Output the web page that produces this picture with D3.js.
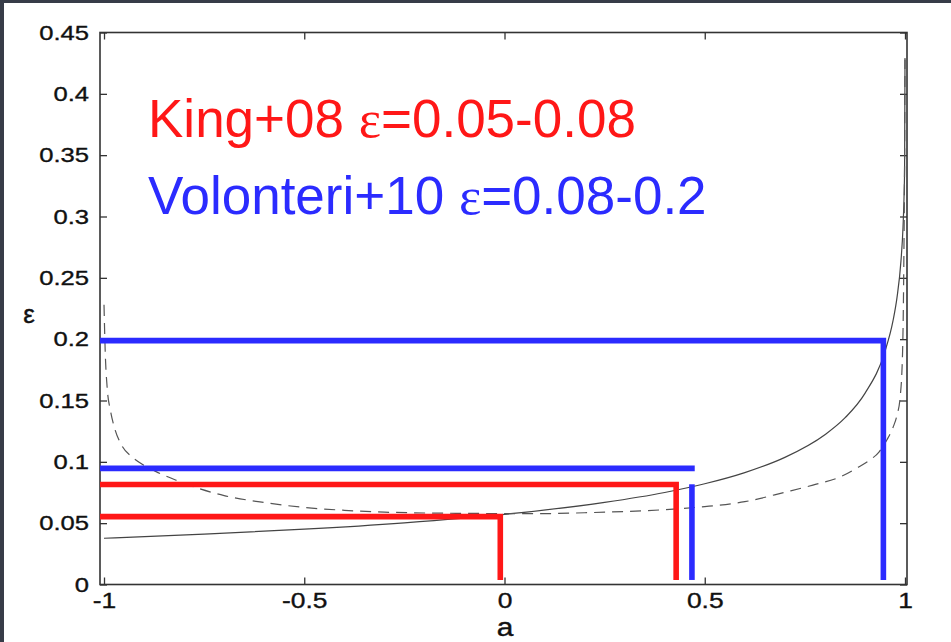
<!DOCTYPE html>
<html><head><meta charset="utf-8">
<script src="https://cdn.jsdelivr.net/npm/d3@7"></script>
<style>
html,body{margin:0;padding:0;background:#373c48;overflow:hidden;}
svg{display:block;}
</style></head>
<body>
<svg id="chart" width="951" height="642"></svg>
<script>
// ---- data ----
const xTicks = [-1, -0.5, 0, 0.5, 1];
const xTickLabels = ["-1", "-0.5", "0", "0.5", "1"];
const yTicks = [0, 0.05, 0.1, 0.15, 0.2, 0.25, 0.3, 0.35, 0.4, 0.45];
const yTickLabels = ["0", "0.05", "0.1", "0.15", "0.2", "0.25", "0.3", "0.35", "0.4", "0.45"];

// solid curve (spin a, efficiency eps)
const solidA = [-1, -0.75, -0.5, -0.25, 0, 0.25, 0.4, 0.5, 0.6, 0.7, 0.8, 0.85, 0.9, 0.95, 0.97, 0.98, 0.99, 0.995, 0.998, 0.999, 1.0];
const solidE = [0.0377, 0.0411, 0.0451, 0.0503, 0.0572, 0.0669, 0.0750, 0.0821, 0.0912, 0.1036, 0.1221, 0.1358, 0.1558, 0.1901, 0.2149, 0.2339, 0.2640, 0.2909, 0.321, 0.340, 0.428];

// dashed curve
const dashedA = [-1.0, -0.997, -0.992, -0.984, -0.974, -0.955, -0.93, -0.9, -0.87, -0.82, -0.77, -0.7, -0.6, -0.5, -0.4, -0.3, -0.2, -0.1, 0, 0.1, 0.2, 0.3, 0.4, 0.5, 0.6, 0.7, 0.77, 0.84, 0.88, 0.91, 0.935, 0.955, 0.97, 0.98, 0.988, 0.994, 0.997, 0.999, 1.0];
const dashedE = [0.228, 0.19, 0.16, 0.142, 0.128, 0.113, 0.104, 0.097, 0.092, 0.085, 0.079, 0.0725, 0.0668, 0.0628, 0.0605, 0.059, 0.0583, 0.058, 0.0578, 0.0578, 0.0585, 0.0595, 0.061, 0.0635, 0.0675, 0.0752, 0.081, 0.088, 0.095, 0.101, 0.108, 0.118, 0.128, 0.138, 0.153, 0.19, 0.26, 0.35, 0.43];

// highlighted ranges (a, eps) polylines
const kingLowA = [-1.01, -0.0105, -0.0105];
const kingLowE = [0.0553, 0.0553, 0.0037];
const kingHighA = [-1.01, 0.4286, 0.4286];
const kingHighE = [0.0815, 0.0815, 0.0037];
const volLowHA = [-1.01, 0.475];
const volLowHE = [0.0947, 0.0947];
const volLowVA = [0.468, 0.468];
const volLowVE = [0.0817, 0.0037];
const volHighA = [-1.01, 0.946, 0.946];
const volHighE = [0.1988, 0.1988, 0.0037];

const labelKing = ["King+08 ", "\u03B5", "=0.05-0.08"];
const labelVol = ["Volonteri+10 ", "\u03B5", "=0.08-0.2"];
const xTitle = "a";
const yTitle = "\u03B5";

// ---- drawing ----
const svg = d3.select("#chart");
const red = "#ff1717", blue = "#2b2bff";

svg.append("rect").attr("x", 4).attr("y", 3).attr("width", 947).attr("height", 639).attr("fill", "#ffffff");

const L = 100, R = 907, T = 32.5, B = 584.5;
const x = d3.scaleLinear().domain([-1.01, 1.005]).range([L, R]);
const y = d3.scaleLinear().domain([0, 0.45]).range([B, T]);

const sans = "'Liberation Sans', Arial, Helvetica, sans-serif";
const serif = "'Liberation Serif', 'Times New Roman', serif";

// axes (ticks inward)
const gL = svg.append("g").attr("transform", `translate(${L},0)`)
  .call(d3.axisLeft(y).tickValues(yTicks).tickFormat((d, i) => yTickLabels[i]).tickSize(-7).tickPadding(0));
const gB = svg.append("g").attr("transform", `translate(0,${B})`)
  .call(d3.axisBottom(x).tickValues(xTicks).tickFormat((d, i) => xTickLabels[i]).tickSize(-7).tickPadding(8));
const gT = svg.append("g").attr("transform", `translate(0,${T})`)
  .call(d3.axisTop(x).tickValues(xTicks).tickFormat("").tickSize(-7));
const gR = svg.append("g").attr("transform", `translate(${R},0)`)
  .call(d3.axisRight(y).tickValues(yTicks).tickFormat("").tickSize(-7));

[gL, gB, gT, gR].forEach(g => {
  g.select(".domain").remove();
  g.selectAll(".tick line").attr("stroke", "#333").attr("stroke-width", 1.3);
});
gL.selectAll(".tick text").attr("x", 0).attr("font-family", sans).attr("font-size", 21).attr("fill", "#111")
  .attr("stroke", "#111").attr("stroke-width", 0.35)
  .attr("transform", "translate(-11,0) scale(1.22,1)");
gB.selectAll(".tick text").attr("font-family", sans).attr("font-size", 22).attr("fill", "#111")
  .attr("stroke", "#111").attr("stroke-width", 0.35)
  .attr("transform", "scale(1.2,1)");

// curves
const line = d3.line().x(d => x(d[0])).y(d => y(d[1])).curve(d3.curveMonotoneX);
const solidData = solidA.map((a, i) => [a, solidE[i]]);
const dashedData = dashedA.map((a, i) => [a, dashedE[i]]);
svg.append("path").datum(solidData).attr("d", line).attr("fill", "none").attr("stroke", "#444").attr("stroke-width", 1.2);
svg.append("path").datum(dashedData).attr("d", line).attr("fill", "none").attr("stroke", "#555").attr("stroke-width", 1.2).attr("stroke-dasharray", "11,7");

// frame
svg.append("rect").attr("x", L).attr("y", T).attr("width", R - L).attr("height", B - T)
  .attr("fill", "none").attr("stroke", "#333").attr("stroke-width", 1.6);

// highlighted lines
const pl = d3.line().x(d => x(d[0])).y(d => y(d[1]));
function poly(A, E, col) {
  svg.append("path").datum(A.map((a, i) => [a, E[i]])).attr("d", pl)
    .attr("fill", "none").attr("stroke", col).attr("stroke-width", 5.6)
    .attr("stroke-linejoin", "miter").attr("stroke-linecap", "butt");
}
poly(kingLowA, kingLowE, red);
poly(kingHighA, kingHighE, red);
poly(volLowHA, volLowHE, blue);
poly(volLowVA, volLowVE, blue);
poly(volHighA, volHighE, blue);

// big labels
function bigLabel(parts, col, yb) {
  const t = svg.append("text").attr("x", 148).attr("y", yb).attr("font-family", sans)
    .attr("font-size", 53).attr("fill", col);
  t.append("tspan").text(parts[0]);
  t.append("tspan").attr("font-family", serif).text(parts[1]);
  t.append("tspan").text(parts[2]);
}
bigLabel(labelKing, red, 137);
bigLabel(labelVol, blue, 214);

// axis titles
svg.append("text").attr("x", 505).attr("y", 636).attr("text-anchor", "middle").attr("font-family", sans)
  .attr("font-size", 26).attr("fill", "#111").attr("stroke", "#111").attr("stroke-width", 0.4)
  .attr("transform", "translate(505,0) scale(1.15,1) translate(-505,0)").text(xTitle);
svg.append("text").attr("x", 29).attr("y", 323).attr("text-anchor", "middle").attr("font-family", sans)
  .attr("font-size", 26).attr("fill", "#111").attr("stroke", "#111").attr("stroke-width", 0.4).text(yTitle);
</script>
</body></html>
